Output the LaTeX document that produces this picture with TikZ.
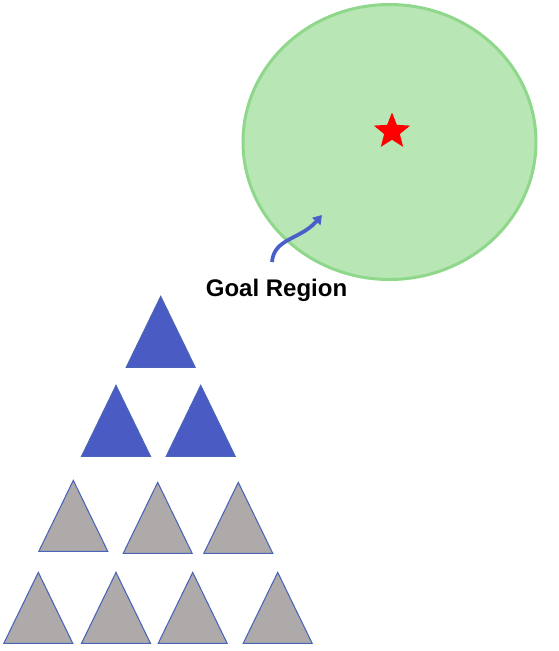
\documentclass[tikz,border=0pt]{standalone}
\usepackage{fontspec}
\setmainfont{Liberation Sans}
\usepackage{xcolor}
\definecolor{GoalFill}{HTML}{B8E6B5}
\definecolor{GoalEdge}{HTML}{8FD78A}
\definecolor{PickFill}{HTML}{4A5BC4}
\definecolor{RestFill}{HTML}{AEAAAA}
\definecolor{TriEdge}{HTML}{4A64B8}
\definecolor{ArrBlue}{HTML}{4A5FCA}
\usepackage{tikz}
\usetikzlibrary{positioning,arrows.meta,shapes.geometric}

\begin{document}
\begin{tikzpicture}[
    x=0.75pt,
    y=-0.75pt,
    region/.style={
        ellipse,
        draw=GoalEdge,
        fill=GoalFill,
        line width=2.25pt,
        minimum width=219.75pt,
        minimum height=206.25pt,
        inner sep=0pt
    },
    target/.style={
        star,
        star points=5,
        star point ratio=2.3,
        fill=red,
        minimum size=28.5pt,
        inner sep=0pt
    },
    tri/.style={
        isosceles triangle,
        isosceles triangle stretches,
        shape border rotate=90,
        minimum width=51.75pt,
        minimum height=53.25pt,
        inner sep=0pt,
        anchor=apex,
        draw=TriEdge,
        line width=0.8pt
    },
    picked/.style={tri,fill=PickFill},
    rest/.style={tri,fill=RestFill},
    goalarr/.style={-{Triangle[length=6.5pt,width=8pt]},line width=2.8pt,draw=ArrBlue},
    lab/.style={
        font=\bfseries\fontsize{18}{20}\selectfont,
        inner sep=0pt,
        anchor=base
    }
]
\useasboundingbox (0,0) rectangle (559,651);

% ---------------------------------------------------------
% Goal region
% ---------------------------------------------------------

\node[region] (goalzone) at (389.5,142) {};

\node[target] (goalstar) at (392,131.5) {};

\node[lab] (goal) at (276.5,296.7) {Goal Region};

\coordinate (tail) at (272,262);
\coordinate (tip) at (322,215);

\draw[goalarr]
(tail) .. controls (274,238) and (300,240) ..
(tip);

% ---------------------------------------------------------
% Triangles
% ---------------------------------------------------------

\node[picked] (t11) at (160.7,295) {};

\node[picked] (t21) at (116,384) {};
\node[picked] (t22) at (200.7,384) {};

\node[rest] (t31) at (73.3,479) {};
\node[rest] (t32) at (157.7,481) {};
\node[rest] (t33) at (238.3,481) {};

\node[rest] (t41) at (38.3,571) {};
\node[rest] (t42) at (116,571) {};
\node[rest] (t43) at (192.7,571) {};
\node[rest] (t44) at (277.7,571) {};

\end{tikzpicture}
\end{document}
